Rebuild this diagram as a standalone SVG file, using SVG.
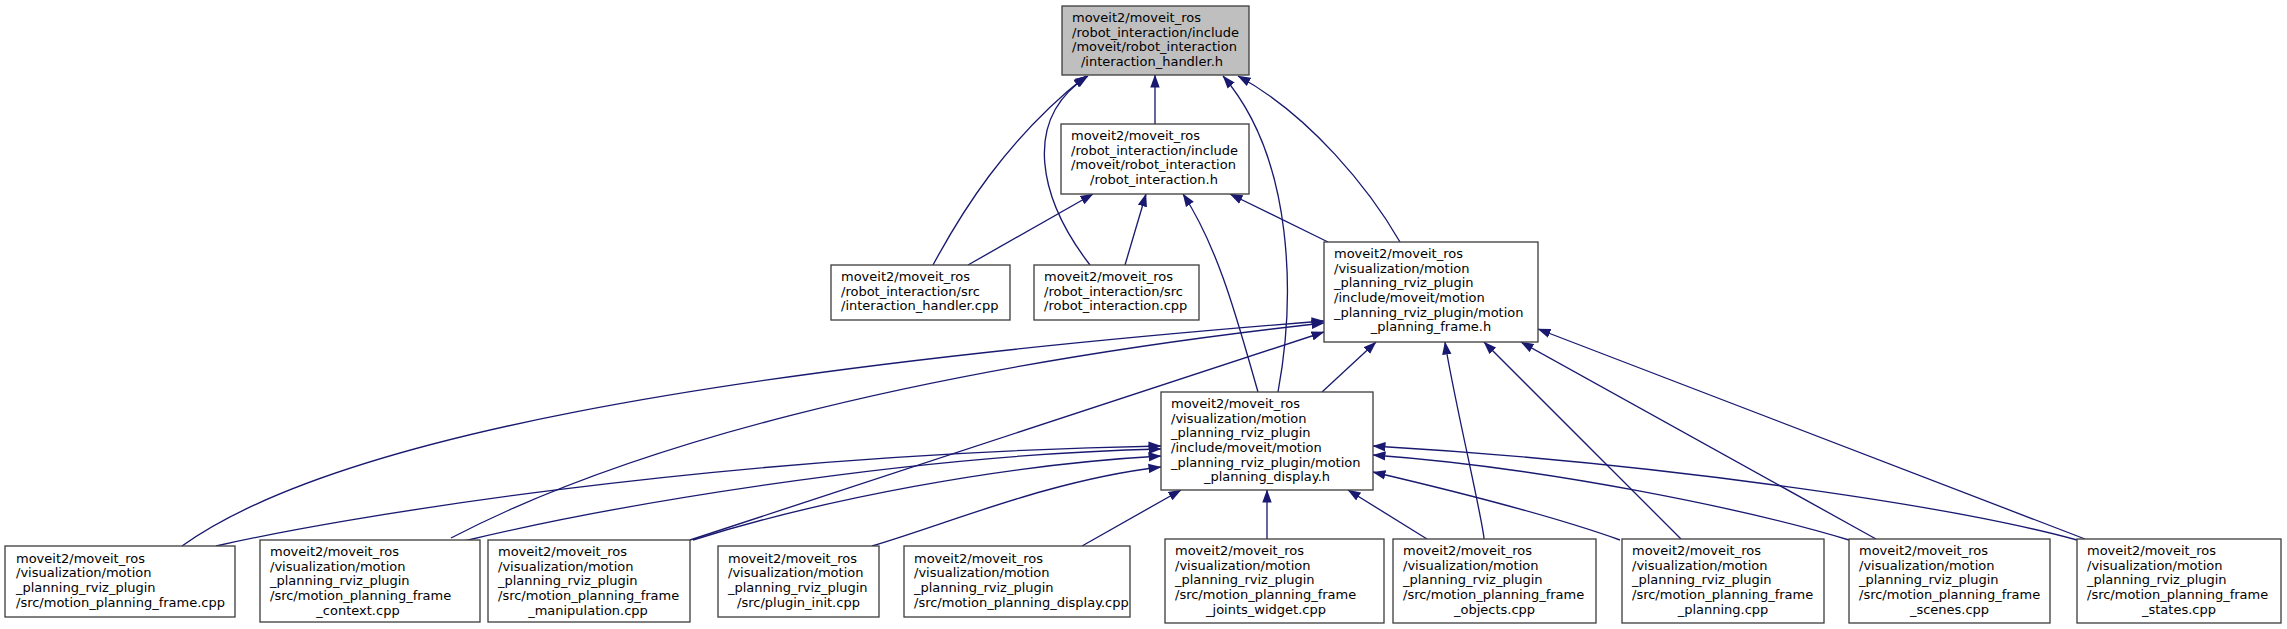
<svg xmlns="http://www.w3.org/2000/svg" width="2287" height="629" viewBox="0 0 2287 629">
<style>
.node rect{fill:#ffffff;stroke:#404040;stroke-width:1.33}
.root rect{fill:#bfbfbf}
text{font-family:"DejaVu Sans",sans-serif;font-size:13px;fill:#000}
.c{text-anchor:middle}
.edges path{fill:none;stroke:#191970;stroke-width:1.33;marker-end:url(#ah)}
</style>
<defs>
<marker id="ah" markerUnits="userSpaceOnUse" markerWidth="13" markerHeight="10" refX="12.5" refY="5" orient="auto" viewBox="0 0 13 10">
<path d="M0,0.3 L13,5 L0,9.7 Z" fill="#191970"/>
</marker>
</defs>
<rect width="2287" height="629" fill="#ffffff"/>
<g class="edges">
<path d="M1155,124 L1155,75"/>
<path d="M933,265 C960,215 1005,140 1086,76"/>
<path d="M1090,265 C1040,200 1020,120 1088,76"/>
<path d="M1278,392 C1295,300 1295,160 1223,76"/>
<path d="M1400,242 C1370,190 1310,115 1238,76"/>
<path d="M968,265 L1093,194"/>
<path d="M1125,265 L1146,194"/>
<path d="M1258,392 C1240,330 1220,250 1183,194"/>
<path d="M1328,242 L1230,194"/>
<path d="M1322,392 L1376,342"/>
<path d="M182,546 C330,440 700,370 1324,321"/>
<path d="M451,538 C620,450 900,370 1324,323"/>
<path d="M690,540 L1324,332"/>
<path d="M1484,539 C1484,525 1452,390 1445,342"/>
<path d="M1681,539 L1484,342"/>
<path d="M1876,539 L1521,342"/>
<path d="M2085,539 L1538,329"/>
<path d="M216,546 C330,520 700,455 1161,446"/>
<path d="M464,541 C600,508 900,455 1161,449"/>
<path d="M693,540 C820,500 1000,465 1161,456"/>
<path d="M872,546 C950,523 1050,480 1161,467"/>
<path d="M1082,546 L1181,490"/>
<path d="M1267,539 L1267,490"/>
<path d="M1427,539 L1348,490"/>
<path d="M1620,540 C1550,515 1450,490 1373,472"/>
<path d="M1849,540 C1750,510 1550,468 1373,455"/>
<path d="M2077,540 C1950,505 1650,462 1373,446"/>
</g>
<g id="n0" class="node root">
<rect x="1062" y="6" width="187" height="69"/>
<text x="1072" y="22">moveit2/moveit_ros</text>
<text x="1072" y="36.7">/robot_interaction/include</text>
<text x="1072" y="51.3">/moveit/robot_interaction</text>
<text class="c" x="1152" y="66">/interaction_handler.h</text>
</g>
<g id="n1" class="node">
<rect x="1061" y="124" width="188" height="70"/>
<text x="1071" y="140">moveit2/moveit_ros</text>
<text x="1071" y="154.7">/robot_interaction/include</text>
<text x="1071" y="169.3">/moveit/robot_interaction</text>
<text class="c" x="1154" y="184">/robot_interaction.h</text>
</g>
<g id="n2" class="node">
<rect x="831" y="265" width="179" height="55"/>
<text x="841" y="281">moveit2/moveit_ros</text>
<text x="841" y="295.7">/robot_interaction/src</text>
<text x="841" y="310.3">/interaction_handler.cpp</text>
</g>
<g id="n3" class="node">
<rect x="1034" y="265" width="165" height="55"/>
<text x="1044" y="281">moveit2/moveit_ros</text>
<text x="1044" y="295.7">/robot_interaction/src</text>
<text x="1044" y="310.3">/robot_interaction.cpp</text>
</g>
<g id="n4" class="node">
<rect x="1324" y="242" width="214" height="100"/>
<text x="1334" y="258">moveit2/moveit_ros</text>
<text x="1334" y="272.7">/visualization/motion</text>
<text x="1334" y="287.3">_planning_rviz_plugin</text>
<text x="1334" y="302">/include/moveit/motion</text>
<text x="1334" y="316.7">_planning_rviz_plugin/motion</text>
<text class="c" x="1431" y="331.3">_planning_frame.h</text>
</g>
<g id="n5" class="node">
<rect x="1161" y="392" width="212" height="98"/>
<text x="1171" y="408">moveit2/moveit_ros</text>
<text x="1171" y="422.7">/visualization/motion</text>
<text x="1171" y="437.3">_planning_rviz_plugin</text>
<text x="1171" y="452">/include/moveit/motion</text>
<text x="1171" y="466.7">_planning_rviz_plugin/motion</text>
<text class="c" x="1267" y="481.3">_planning_display.h</text>
</g>
<g id="b1" class="node">
<rect x="5" y="546" width="230" height="71"/>
<text x="16" y="562.5">moveit2/moveit_ros</text>
<text x="16" y="577.2">/visualization/motion</text>
<text x="16" y="591.8">_planning_rviz_plugin</text>
<text x="16" y="606.5">/src/motion_planning_frame.cpp</text>
</g>
<g id="b2" class="node">
<rect x="260" y="540" width="220" height="82"/>
<text x="270" y="556">moveit2/moveit_ros</text>
<text x="270" y="570.7">/visualization/motion</text>
<text x="270" y="585.3">_planning_rviz_plugin</text>
<text x="270" y="600">/src/motion_planning_frame</text>
<text class="c" x="358" y="614.7">_context.cpp</text>
</g>
<g id="b3" class="node">
<rect x="488" y="540" width="202" height="82"/>
<text x="498" y="556">moveit2/moveit_ros</text>
<text x="498" y="570.7">/visualization/motion</text>
<text x="498" y="585.3">_planning_rviz_plugin</text>
<text x="498" y="600">/src/motion_planning_frame</text>
<text class="c" x="588" y="614.7">_manipulation.cpp</text>
</g>
<g id="b4" class="node">
<rect x="718" y="546" width="161" height="71"/>
<text x="728" y="562.5">moveit2/moveit_ros</text>
<text x="728" y="577.2">/visualization/motion</text>
<text x="728" y="591.8">_planning_rviz_plugin</text>
<text class="c" x="798.5" y="606.5">/src/plugin_init.cpp</text>
</g>
<g id="b5" class="node">
<rect x="904" y="546" width="226" height="71"/>
<text x="914" y="562.5">moveit2/moveit_ros</text>
<text x="914" y="577.2">/visualization/motion</text>
<text x="914" y="591.8">_planning_rviz_plugin</text>
<text x="914" y="606.5">/src/motion_planning_display.cpp</text>
</g>
<g id="b6" class="node">
<rect x="1165" y="539" width="219" height="84"/>
<text x="1175" y="555">moveit2/moveit_ros</text>
<text x="1175" y="569.7">/visualization/motion</text>
<text x="1175" y="584.3">_planning_rviz_plugin</text>
<text x="1175" y="599">/src/motion_planning_frame</text>
<text class="c" x="1266" y="613.7">_joints_widget.cpp</text>
</g>
<g id="b7" class="node">
<rect x="1393" y="539" width="203" height="84"/>
<text x="1403" y="555">moveit2/moveit_ros</text>
<text x="1403" y="569.7">/visualization/motion</text>
<text x="1403" y="584.3">_planning_rviz_plugin</text>
<text x="1403" y="599">/src/motion_planning_frame</text>
<text class="c" x="1494.5" y="613.7">_objects.cpp</text>
</g>
<g id="b8" class="node">
<rect x="1622" y="539" width="202" height="84"/>
<text x="1632" y="555">moveit2/moveit_ros</text>
<text x="1632" y="569.7">/visualization/motion</text>
<text x="1632" y="584.3">_planning_rviz_plugin</text>
<text x="1632" y="599">/src/motion_planning_frame</text>
<text class="c" x="1723" y="613.7">_planning.cpp</text>
</g>
<g id="b9" class="node">
<rect x="1849" y="539" width="201" height="84"/>
<text x="1859" y="555">moveit2/moveit_ros</text>
<text x="1859" y="569.7">/visualization/motion</text>
<text x="1859" y="584.3">_planning_rviz_plugin</text>
<text x="1859" y="599">/src/motion_planning_frame</text>
<text class="c" x="1949.5" y="613.7">_scenes.cpp</text>
</g>
<g id="b10" class="node">
<rect x="2077" y="539" width="204" height="84"/>
<text x="2087" y="555">moveit2/moveit_ros</text>
<text x="2087" y="569.7">/visualization/motion</text>
<text x="2087" y="584.3">_planning_rviz_plugin</text>
<text x="2087" y="599">/src/motion_planning_frame</text>
<text class="c" x="2179" y="613.7">_states.cpp</text>
</g>
</svg>
